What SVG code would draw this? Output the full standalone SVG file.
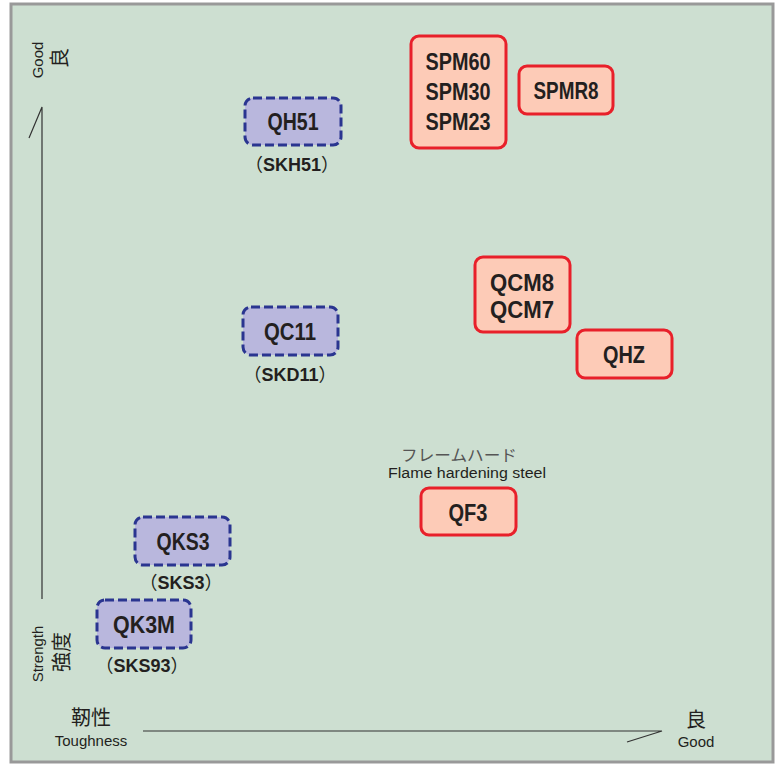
<svg xmlns="http://www.w3.org/2000/svg" width="781" height="765" viewBox="0 0 781 765">
<style>
.red rect{fill:#fdcbb7;stroke:#e8202a;stroke-width:3}
.blue rect{fill:#b9b7dd;stroke:#2a3590;stroke-width:3;stroke-dasharray:9 4}
.n{font-family:"Liberation Sans",Arial,sans-serif;font-weight:bold;font-size:23px;fill:#231f20;text-anchor:middle}
.l{font-family:"Liberation Sans","Noto Sans CJK JP",sans-serif;font-weight:bold;font-size:18px;fill:#231f20;text-anchor:middle}
.p{font-family:"Noto Sans CJK JP",sans-serif;font-weight:normal}
.ax{font-family:"Liberation Sans","Noto Sans CJK JP",sans-serif;fill:#231f20}
.axl{stroke:#333;stroke-width:1.2;fill:none}
</style>
<rect x="11" y="4" width="762" height="758" fill="#cddfd1" stroke="#999" stroke-width="3"/>
<g id="axes">
<path class="axl" d="M42,599 V107 L29,138"/>
<path class="axl" d="M143,731 H662 L627,742"/>
<text class="ax" font-size="15" text-anchor="middle" transform="translate(43,60) rotate(-90)">Good</text>
<text class="ax" font-size="20" text-anchor="middle" font-family="Noto Sans CJK JP,sans-serif" transform="translate(67,58) rotate(-90)">良</text>
<text class="ax" font-size="15" text-anchor="middle" transform="translate(43,654) rotate(-90)">Strength</text>
<text class="ax" font-size="20" text-anchor="middle" font-family="Noto Sans CJK JP,sans-serif" transform="translate(69,652) rotate(-90)">強度</text>
<text class="ax" x="91" y="725" font-size="20" text-anchor="middle" font-family="Noto Sans CJK JP,sans-serif">靭性</text>
<text class="ax" x="91" y="746" font-size="15" text-anchor="middle">Toughness</text>
<text class="ax" x="696" y="727" font-size="20" text-anchor="middle" font-family="Noto Sans CJK JP,sans-serif">良</text>
<text class="ax" x="696" y="747" font-size="15" text-anchor="middle">Good</text>
</g>
<g id="connectors"></g>
<g id="spm" class="red">
<rect x="411" y="36" width="95" height="112" rx="8"/>
<text class="n" x="458" y="70" textLength="65" lengthAdjust="spacingAndGlyphs">SPM60</text>
<text class="n" x="458" y="100" textLength="65" lengthAdjust="spacingAndGlyphs">SPM30</text>
<text class="n" x="458" y="130" textLength="65" lengthAdjust="spacingAndGlyphs">SPM23</text>
</g>
<g id="spmr8" class="red">
<rect x="519" y="66" width="94" height="48" rx="8"/>
<text class="n" x="566" y="99" textLength="65" lengthAdjust="spacingAndGlyphs">SPMR8</text>
</g>
<g id="qh51" class="blue">
<rect x="245" y="98" width="96" height="47" rx="8"/>
<text class="n" x="293" y="130" textLength="51" lengthAdjust="spacingAndGlyphs">QH51</text>
<text class="l" x="292" y="171"><tspan class="p">（</tspan>SKH51<tspan class="p">）</tspan></text>
</g>
<g id="qc11" class="blue">
<rect x="243" y="307" width="95" height="48" rx="8"/>
<text class="n" x="290" y="340" textLength="52" lengthAdjust="spacingAndGlyphs">QC11</text>
<text class="l" x="290" y="381"><tspan class="p">（</tspan>SKD11<tspan class="p">）</tspan></text>
</g>
<g id="qcm" class="red">
<rect x="475" y="257" width="95" height="75" rx="8"/>
<text class="n" x="522" y="291" textLength="64" lengthAdjust="spacingAndGlyphs">QCM8</text>
<text class="n" x="522" y="318" textLength="64" lengthAdjust="spacingAndGlyphs">QCM7</text>
</g>
<g id="qhz" class="red">
<rect x="577" y="330" width="95" height="48" rx="8"/>
<text class="n" x="624" y="363" textLength="42" lengthAdjust="spacingAndGlyphs">QHZ</text>
</g>
<g id="qf3" class="red">
<text x="459" y="461" font-family="Noto Sans CJK JP,sans-serif" font-size="16" fill="#555" text-anchor="middle" textLength="116" lengthAdjust="spacingAndGlyphs">フレームハード</text>
<text x="467" y="478" font-family="Liberation Sans,Arial,sans-serif" font-size="14" fill="#231f20" text-anchor="middle" textLength="158" lengthAdjust="spacingAndGlyphs">Flame hardening steel</text>
<rect x="421" y="488" width="95" height="47" rx="8"/>
<text class="n" x="468" y="521" textLength="39" lengthAdjust="spacingAndGlyphs">QF3</text>
</g>
<g id="qks3" class="blue">
<rect x="135" y="517" width="95" height="48" rx="8"/>
<text class="n" x="183" y="550" textLength="53" lengthAdjust="spacingAndGlyphs">QKS3</text>
<text class="l" x="181" y="589"><tspan class="p">（</tspan>SKS3<tspan class="p">）</tspan></text>
</g>
<g id="qk3m" class="blue">
<rect x="97" y="600" width="94" height="48" rx="8"/>
<text class="n" x="144" y="633" textLength="62" lengthAdjust="spacingAndGlyphs">QK3M</text>
<text class="l" x="142" y="672"><tspan class="p">（</tspan>SKS93<tspan class="p">）</tspan></text>
</g>
</svg>
